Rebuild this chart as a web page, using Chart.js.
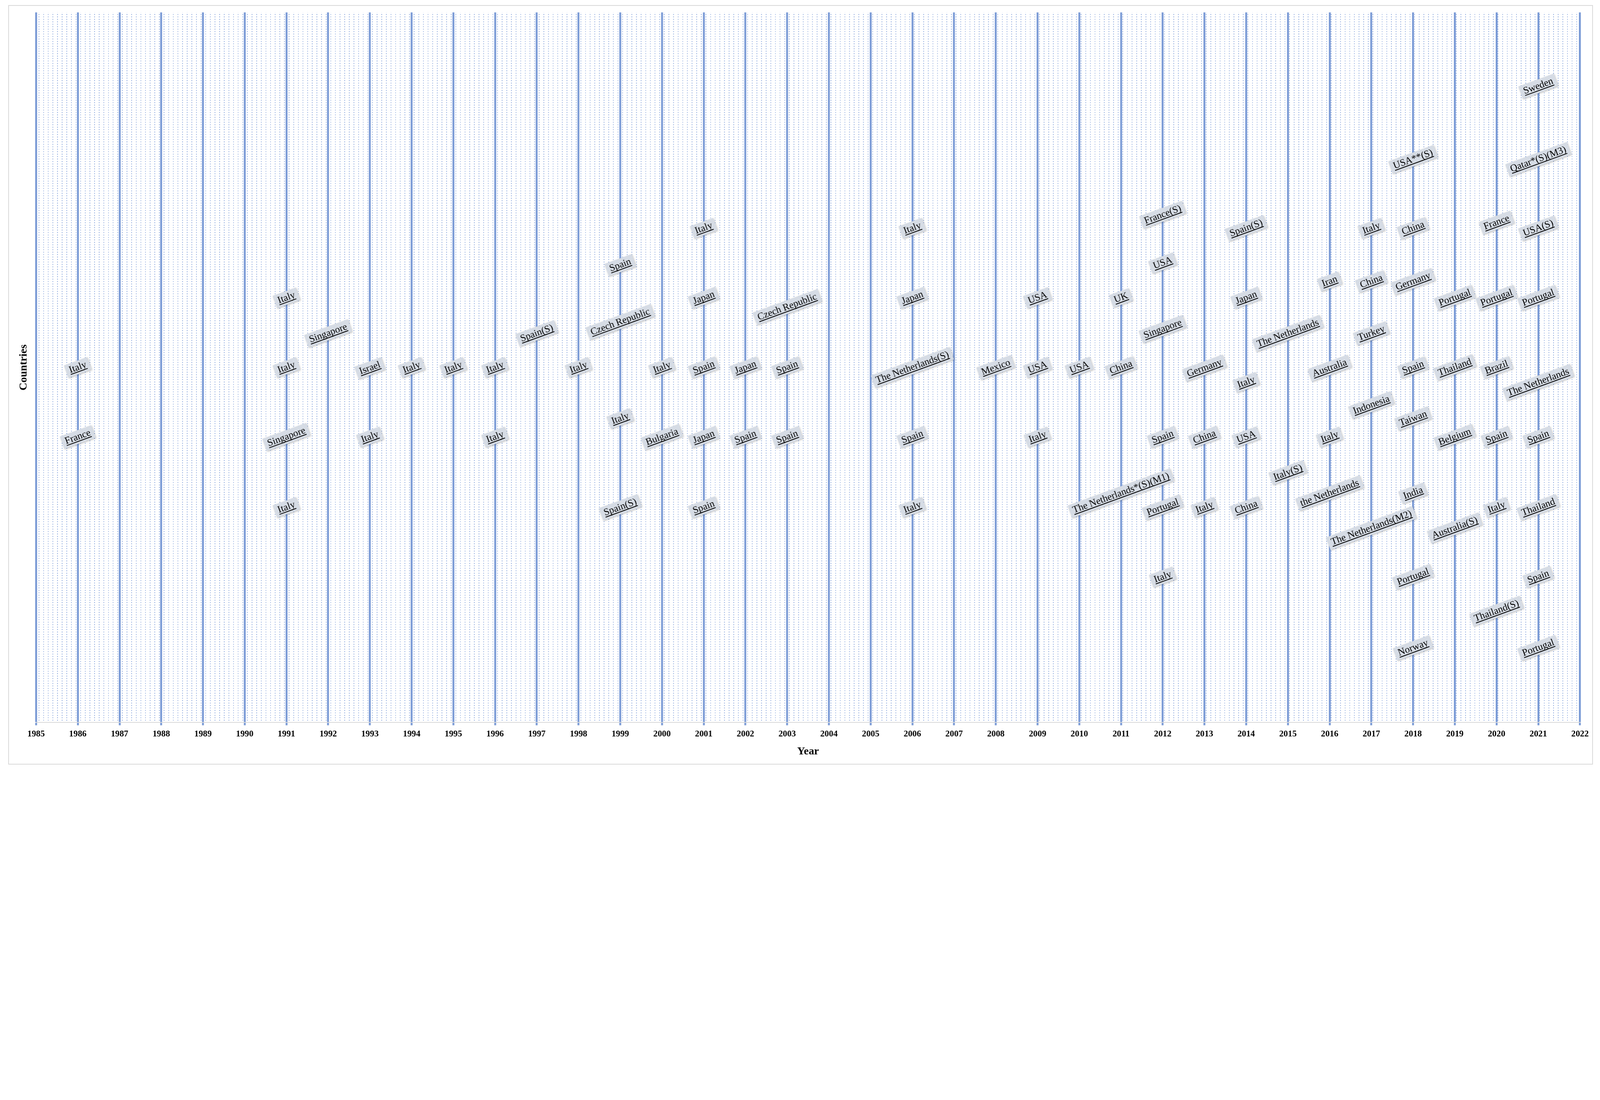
<!DOCTYPE html>
<html>
<head>
<meta charset="utf-8">
<script src="https://cdn.jsdelivr.net/npm/chart.js@4.4.1/dist/chart.umd.min.js"></script>
<style>
  html, body { margin: 0; padding: 0; background: #fff; overflow: hidden; }
  #wrap { position: absolute; box-sizing: border-box; border-style: solid; border-color: #d9d9d9; }
</style>
</head>
<body>
<div id="wrap"><canvas id="chart"></canvas></div>
<script>
// Anos (eixo X) e rótulos de cada ano com a sua "altura" (posição na vertical, 0-100)
var years = [1986,1986,
  1991,1991,1991,1991, 1992, 1993,1993, 1994, 1995, 1996,1996, 1997, 1998,
  1999,1999,1999,1999, 2000,2000, 2001,2001,2001,2001,2001, 2002,2002, 2003,2003,2003,
  2006,2006,2006,2006,2006, 2008, 2009,2009,2009, 2010, 2011,2011,2011,
  2012,2012,2012,2012,2012,2012, 2013,2013,2013, 2014,2014,2014,2014,2014,
  2015,2015, 2016,2016,2016,2016, 2017,2017,2017,2017,2017,
  2018,2018,2018,2018,2018,2018,2018,2018, 2019,2019,2019,2019,
  2020,2020,2020,2020,2020,2020, 2021,2021,2021,2021,2021,2021,2021,2021,2021];
var countries = ['Italy','France',
  'Italy','Italy','Singapore','Italy', 'Singapore', 'Israel','Italy', 'Italy', 'Italy', 'Italy','Italy', 'Spain(S)', 'Italy',
  'Spain','Czech Republic','Italy','Spain(S)', 'Italy','Bulgaria', 'Italy','Japan','Spain','Japan','Spain', 'Japan','Spain', 'Czech Republic','Spain','Spain',
  'Italy','Japan','The Netherlands(S)','Spain','Italy', 'Mexico', 'USA','USA','Italy', 'USA', 'UK','China','The Netherlands*(S)(M1)',
  'France(S)','USA','Singapore','Spain','Portugal','Italy', 'Germany','China','Italy', 'Spain(S)','Japan','Italy','USA','China',
  'The Netherlands','Italy(S)', 'Iran','Australia','Italy','the Netherlands', 'Italy','China','Turkey','Indonesia','The Netherlands(M2)',
  'USA**(S)','China','Germany','Spain','Taiwan','India','Portugal','Norway', 'Portugal','Thailand','Belgium','Australia(S)',
  'France','Portugal','Brazil','Spain','Italy','Thailand(S)', 'Sweden','Qatar*(S)(M3)','USA(S)','Portugal','The Netherlands','Spain','Thailand','Spain','Portugal'];
var heights = [50.0,40.2,
  59.8,50.0,40.2,30.3, 54.8, 49.9,40.2, 50.0, 50.0, 50.0,40.2, 54.8, 50.0,
  64.4,56.4,42.8,30.3, 50.0,40.2, 69.6,59.8,50.0,40.2,30.3, 50.0,40.2, 58.5,50.0,40.2,
  69.6,59.8,50.0,40.2,30.3, 50.0, 59.8,50.0,40.2, 50.0, 59.8,50.0,32.3,
  71.5,64.7,55.4,40.2,30.3,20.5, 49.9,40.2,30.3, 69.6,59.8,47.9,40.2,30.3,
  54.8,35.2, 62.1,49.9,40.2,32.3, 69.6,62.1,54.8,44.7,27.4,
  79.3,69.6,62.1,50.0,42.8,32.3,20.5,10.5, 59.8,50.0,40.2,27.4,
  70.4,59.8,50.0,40.2,30.3,15.7, 89.6,79.3,69.6,59.8,47.9,40.2,30.3,20.5,10.5];
var yearTicks = [1985, 2022];

var points = years.map(function (y, i) { return { x: y, y: heights[i], label: countries[i] }; });

// escala: o desenho foi pensado para 5874 px de largura
var s = window.innerWidth / 5874;
var wrap = document.getElementById('wrap');
wrap.style.left = (30 * s) + 'px';
wrap.style.top = (18 * s) + 'px';
wrap.style.width = (5818 * s) + 'px';
wrap.style.height = (2790 * s) + 'px';
wrap.style.borderWidth = Math.max(1, 3 * s) + 'px';

// fundo pontilhado
function dotPattern(ctx) {
  var c = document.createElement('canvas');
  c.width = 17; c.height = 9;
  var g = c.getContext('2d');
  g.fillStyle = '#fff'; g.fillRect(0, 0, 17, 9);
  g.fillStyle = '#5b83cf'; g.fillRect(7, 3, 2, 3);
  var p = ctx.createPattern(c, 'repeat');
  p.setTransform(new DOMMatrix().scale(s, s));
  return p;
}

var bgPlugin = {
  id: 'bg',
  beforeDraw: function (chart) {
    var a = chart.chartArea, ctx = chart.ctx;
    ctx.save();
    ctx.fillStyle = dotPattern(ctx);
    ctx.fillRect(a.left, a.top, a.right - a.left, a.bottom - a.top);
    ctx.restore();
  }
};

// rótulos inclinados com caixa cinza e sublinhado
var labelPlugin = {
  id: 'tags',
  afterDatasetsDraw: function (chart) {
    var ctx = chart.ctx, xs = chart.scales.x, ys = chart.scales.y;
    ctx.save();
    ctx.font = (36 * s) + 'px "Liberation Serif"';
    chart.data.datasets[0].data.forEach(function (p) {
      var px = xs.getPixelForValue(p.x), py = ys.getPixelForValue(p.y);
      var w = ctx.measureText(p.label).width;
      ctx.save();
      ctx.translate(px, py);
      ctx.rotate(-20 * Math.PI / 180);
      ctx.shadowColor = 'rgba(0,0,0,0.25)'; ctx.shadowBlur = 6 * s; ctx.shadowOffsetX = 2 * s; ctx.shadowOffsetY = 2 * s;
      ctx.fillStyle = '#d6dce5';
      ctx.fillRect(-w / 2 - 12 * s, -24 * s, w + 24 * s, 48 * s);
      ctx.shadowColor = 'transparent';
      ctx.fillStyle = '#000';
      ctx.textAlign = 'center'; ctx.textBaseline = 'middle';
      ctx.fillText(p.label, 0, 0);
      ctx.fillRect(-w / 2, 14 * s, w, 3 * s);
      ctx.restore();
    });
    ctx.restore();
  }
};

Chart.defaults.font.family = '"Liberation Serif", serif';
Chart.defaults.color = '#000';

new Chart(document.getElementById('chart'), {
  type: 'scatter',
  data: { datasets: [{ data: points, pointRadius: 0, showLine: false }] },
  plugins: [bgPlugin, labelPlugin],
  options: {
    responsive: true, maintainAspectRatio: false, animation: false,
    layout: { padding: { left: 20 * s, right: 40 * s, top: 24 * s, bottom: 16 * s } },
    plugins: { legend: { display: false }, tooltip: { enabled: false } },
    scales: {
      x: {
        type: 'linear', min: yearTicks[0], max: yearTicks[1],
        ticks: { stepSize: 1, callback: function (v) { return String(v); }, font: { size: 32 * s, weight: 'bold' }, padding: 14 * s, maxRotation: 0, autoSkip: false },
        grid: { color: '#7b9bd6', lineWidth: 7 * s, tickLength: 10 * s },
        border: { display: true, color: '#d9d9d9', width: 3 * s },
        title: { display: true, text: 'Year', font: { size: 40 * s, weight: 'bold' }, padding: { top: 6 * s } }
      },
      y: {
        min: 0, max: 100,
        ticks: { display: false },
        grid: { display: false },
        border: { display: false },
        title: { display: true, text: 'Countries', font: { size: 40 * s, weight: 'bold' }, padding: 10 * s }
      }
    }
  }
});
</script>
</body>
</html>
